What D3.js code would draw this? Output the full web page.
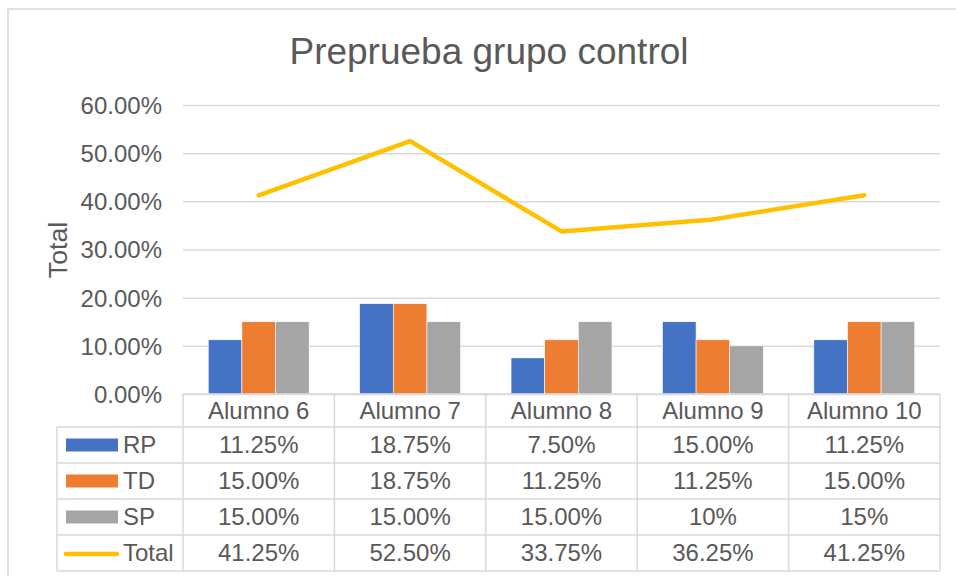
<!DOCTYPE html>
<html>
<head>
<meta charset="utf-8">
<script src="https://cdn.jsdelivr.net/npm/d3@7"></script>
<style>
  html, body { margin: 0; padding: 0; background: #fff; }
  svg { display: block; font-family: "Liberation Sans", Arial, sans-serif; }
</style>
</head>
<body>
<svg id="chart" width="956" height="576"></svg>
<script>
const categories = ["Alumno 6", "Alumno 7", "Alumno 8", "Alumno 9", "Alumno 10"];
const seriesNames = ["RP", "TD", "SP"];
const rpValues = [0.1125, 0.1875, 0.075, 0.15, 0.1125];
const tdValues = [0.15, 0.1875, 0.1125, 0.1125, 0.15];
const spValues = [0.15, 0.15, 0.15, 0.10, 0.15];
const totalValues = [0.4125, 0.525, 0.3375, 0.3625, 0.4125];
const rpLabels = ["11.25%", "18.75%", "7.50%", "15.00%", "11.25%"];
const tdLabels = ["15.00%", "18.75%", "11.25%", "11.25%", "15.00%"];
const spLabels = ["15.00%", "15.00%", "15.00%", "10%", "15%"];
const totalLabels = ["41.25%", "52.50%", "33.75%", "36.25%", "41.25%"];
const yTicks = [0, 0.1, 0.2, 0.3, 0.4, 0.5, 0.6];
const colors = { RP: "#4472C4", TD: "#ED7D31", SP: "#A5A5A5", Total: "#FFC000" };

const svg = d3.select("#chart");
const textColor = "#595959";
const gridColor = "#D9D9D9";

// outer chart border
svg.append("rect").attr("x", 8).attr("y", 9).attr("width", 960).attr("height", 600)
  .attr("fill", "none").attr("stroke", gridColor).attr("stroke-width", 1.5);

const plotLeft = 183, plotRight = 940, plotTop = 105, plotBottom = 394;
const x = d3.scaleBand().domain(categories).range([plotLeft, plotRight]).paddingInner(0).paddingOuter(0);
const y = d3.scaleLinear().domain([0, 0.6]).range([plotBottom, plotTop]);
const bw = x.bandwidth();
const x1 = d3.scaleBand().domain(seriesNames).range([bw / 6, bw * 5 / 6]).padding(0);

// title
svg.append("text").attr("x", 489).attr("y", 64).attr("text-anchor", "middle")
  .attr("font-size", 37).attr("fill", textColor).text("Preprueba grupo control");

// gridlines
const yAxis = d3.axisLeft(y).tickValues(yTicks).tickSize(-(plotRight - plotLeft))
  .tickFormat(d => (d * 100).toFixed(2) + "%");
const gy = svg.append("g").attr("transform", `translate(${plotLeft},0)`).call(yAxis);
gy.select(".domain").remove();
gy.selectAll(".tick line").attr("stroke", gridColor).attr("stroke-width", 1.5);
gy.selectAll(".tick text").attr("font-size", 24).attr("fill", textColor)
  .attr("x", -21).attr("dy", "0.35em").attr("font-family", "Liberation Sans, Arial, sans-serif");

// y-axis title
svg.append("text").attr("transform", "translate(67,250) rotate(-90)")
  .attr("text-anchor", "middle").attr("font-size", 26.7).attr("fill", textColor).text("Total");

// bars
const barData = [];
categories.forEach((c, i) => {
  barData.push({ cat: c, s: "RP", v: rpValues[i] });
  barData.push({ cat: c, s: "TD", v: tdValues[i] });
  barData.push({ cat: c, s: "SP", v: spValues[i] });
});
svg.append("g").selectAll("rect").data(barData).join("rect")
  .attr("x", d => x(d.cat) + x1(d.s))
  .attr("width", x1.bandwidth())
  .attr("y", d => y(d.v))
  .attr("height", d => y(0) - y(d.v))
  .attr("fill", d => colors[d.s])
  .attr("stroke", "#fff").attr("stroke-width", 0.6);

// total line
const line = d3.line().x((d, i) => x(categories[i]) + bw / 2).y(d => y(d));
svg.append("path").datum(totalValues).attr("d", line)
  .attr("fill", "none").attr("stroke", colors.Total).attr("stroke-width", 4.5)
  .attr("stroke-linecap", "round").attr("stroke-linejoin", "round");

// data table
const tableLeft = 57, headerTop = 394, headerBottom = 427, rowH = 36;
const rows = [
  { name: "RP", labels: rpLabels, type: "bar" },
  { name: "TD", labels: tdLabels, type: "bar" },
  { name: "SP", labels: spLabels, type: "bar" },
  { name: "Total", labels: totalLabels, type: "line" }
];
const tableBottom = headerBottom + rowH * rows.length;
const tg = svg.append("g");
const border = (x1_, y1_, x2_, y2_) => tg.append("line")
  .attr("x1", x1_).attr("y1", y1_).attr("x2", x2_).attr("y2", y2_)
  .attr("stroke", gridColor).attr("stroke-width", 1.5);

// horizontal lines
border(plotLeft, headerTop, plotRight, headerTop);
border(tableLeft, headerBottom, plotRight, headerBottom);
rows.forEach((r, i) => border(tableLeft, headerBottom + rowH * (i + 1), plotRight, headerBottom + rowH * (i + 1)));
// vertical lines
border(tableLeft, headerBottom, tableLeft, tableBottom);
categories.forEach(c => border(x(c), headerTop, x(c), tableBottom));
border(plotRight, headerTop, plotRight, tableBottom);

// header labels
tg.selectAll("text.hdr").data(categories).join("text").attr("class", "hdr")
  .attr("x", d => x(d) + bw / 2).attr("y", (headerTop + headerBottom) / 2).attr("dy", "0.35em")
  .attr("text-anchor", "middle").attr("font-size", 24).attr("fill", textColor).text(d => d);

rows.forEach((r, i) => {
  const cy = headerBottom + rowH * i + rowH / 2;
  if (r.type === "bar") {
    tg.append("rect").attr("x", 66).attr("y", cy - 6.5).attr("width", 52).attr("height", 13)
      .attr("fill", colors[r.name]);
  } else {
    tg.append("line").attr("x1", 66).attr("x2", 117).attr("y1", cy + 1).attr("y2", cy + 1)
      .attr("stroke", colors.Total).attr("stroke-width", 4.5).attr("stroke-linecap", "round");
  }
  tg.append("text").attr("x", 123).attr("y", cy).attr("dy", "0.35em")
    .attr("font-size", 24).attr("fill", textColor).text(r.name);
  tg.selectAll(null).data(r.labels).join("text")
    .attr("x", (d, j) => x(categories[j]) + bw / 2).attr("y", cy).attr("dy", "0.35em")
    .attr("text-anchor", "middle").attr("font-size", 24).attr("fill", textColor).text(d => d);
});
</script>
</body>
</html>
